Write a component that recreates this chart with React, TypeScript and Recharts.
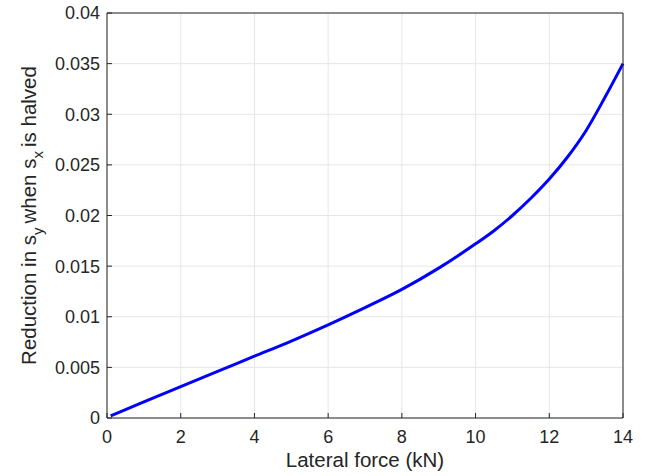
import { LineChart, Line, XAxis, YAxis, CartesianGrid } from 'recharts';

const forceKN = [0.1, 1, 2, 3, 4, 5, 6, 7, 8, 9, 10, 10.5, 11, 11.5, 12, 12.5, 13, 13.5, 14];
const reduction = [
  0.0002, 0.0016, 0.0031, 0.0046, 0.0061, 0.0076, 0.0092, 0.0109, 0.0127, 0.0148,
  0.0172, 0.0185, 0.02, 0.0217, 0.0236, 0.0258, 0.0284, 0.0316, 0.035,
];
const xTicks = [0, 2, 4, 6, 8, 10, 12, 14];
const yTicks = [0, 0.005, 0.01, 0.015, 0.02, 0.025, 0.03, 0.035, 0.04];

const data = forceKN.map((f, i) => ({ force: f, reduction: reduction[i] }));

const FONT = '"Liberation Sans", Arial, Helvetica, sans-serif';
const INK = '#262626';

function XTick(props: any) {
  const { x, y, payload } = props;
  return (
    <text x={x} y={y} dy="0.71em" textAnchor="middle" fill={INK} fontSize={18} fontFamily={FONT}>
      {payload.value}
    </text>
  );
}

function YTick(props: any) {
  const { x, y, payload } = props;
  return (
    <text x={x} y={y} dy="0.355em" textAnchor="end" fill={INK} fontSize={18} fontFamily={FONT}>
      {payload.value}
    </text>
  );
}

function YLabel(props: any) {
  const vb = props.viewBox || { x: 0, y: 0, width: 0, height: 0 };
  const cx = 36;
  const cy = vb.y + vb.height / 2;
  return (
    <text
      x={cx}
      y={cy}
      transform={`rotate(-90, ${cx}, ${cy})`}
      textAnchor="middle"
      fill={INK}
      fontSize={20.5}
      fontFamily={FONT}
    >
      Reduction in s
      <tspan fontSize={15} dy={7}>y</tspan>
      <tspan dx={4} dy={-7}>when s</tspan>
      <tspan fontSize={15} dy={7}>x</tspan>
      <tspan dx={4} dy={-7}>is halved</tspan>
    </text>
  );
}

export default function App() {
  return (
    <div style={{ position: 'absolute', left: 0, top: 0, background: '#fff' }}>
      <LineChart
        width={659}
        height={476}
        data={data}
        margin={{ top: 12, right: 35, bottom: 0, left: 0 }}
      >
        <CartesianGrid stroke="#e6e6e6" strokeWidth={1} xAxisId="bottom" yAxisId="left" />
        <XAxis
          xAxisId="bottom"
          dataKey="force"
          type="number"
          domain={[0, 14]}
          ticks={xTicks}
          height={58}
          stroke={INK}
          tickSize={-5}
          tickMargin={17}
          tick={<XTick />}
          label={{
            value: 'Lateral force (kN)',
            position: 'insideBottom',
            offset: 9,
            fill: INK,
            fontSize: 20.5,
            fontFamily: FONT,
          }}
        />
        <XAxis
          xAxisId="top"
          orientation="top"
          dataKey="force"
          type="number"
          domain={[0, 14]}
          ticks={xTicks}
          height={1}
          stroke={INK}
          tickSize={-5}
          tick={false}
        />
        <YAxis
          yAxisId="left"
          type="number"
          domain={[0, 0.04]}
          ticks={yTicks}
          width={107}
          stroke={INK}
          tickSize={-5}
          tickMargin={12}
          tick={<YTick />}
          label={{ content: (p: any) => <YLabel {...p} /> }}
        />
        <YAxis
          yAxisId="right"
          orientation="right"
          type="number"
          domain={[0, 0.04]}
          ticks={yTicks}
          width={1}
          stroke={INK}
          tickSize={-5}
          tick={false}
        />
        {/* invisible copy so the top/right frame axes get drawn */}
        <Line
          xAxisId="top"
          yAxisId="right"
          dataKey="reduction"
          stroke="none"
          dot={false}
          activeDot={false}
          legendType="none"
          isAnimationActive={false}
        />
        <Line
          xAxisId="bottom"
          yAxisId="left"
          type="monotone"
          dataKey="reduction"
          stroke="#0000ff"
          strokeWidth={3}
          dot={false}
          isAnimationActive={false}
        />
      </LineChart>
    </div>
  );
}
